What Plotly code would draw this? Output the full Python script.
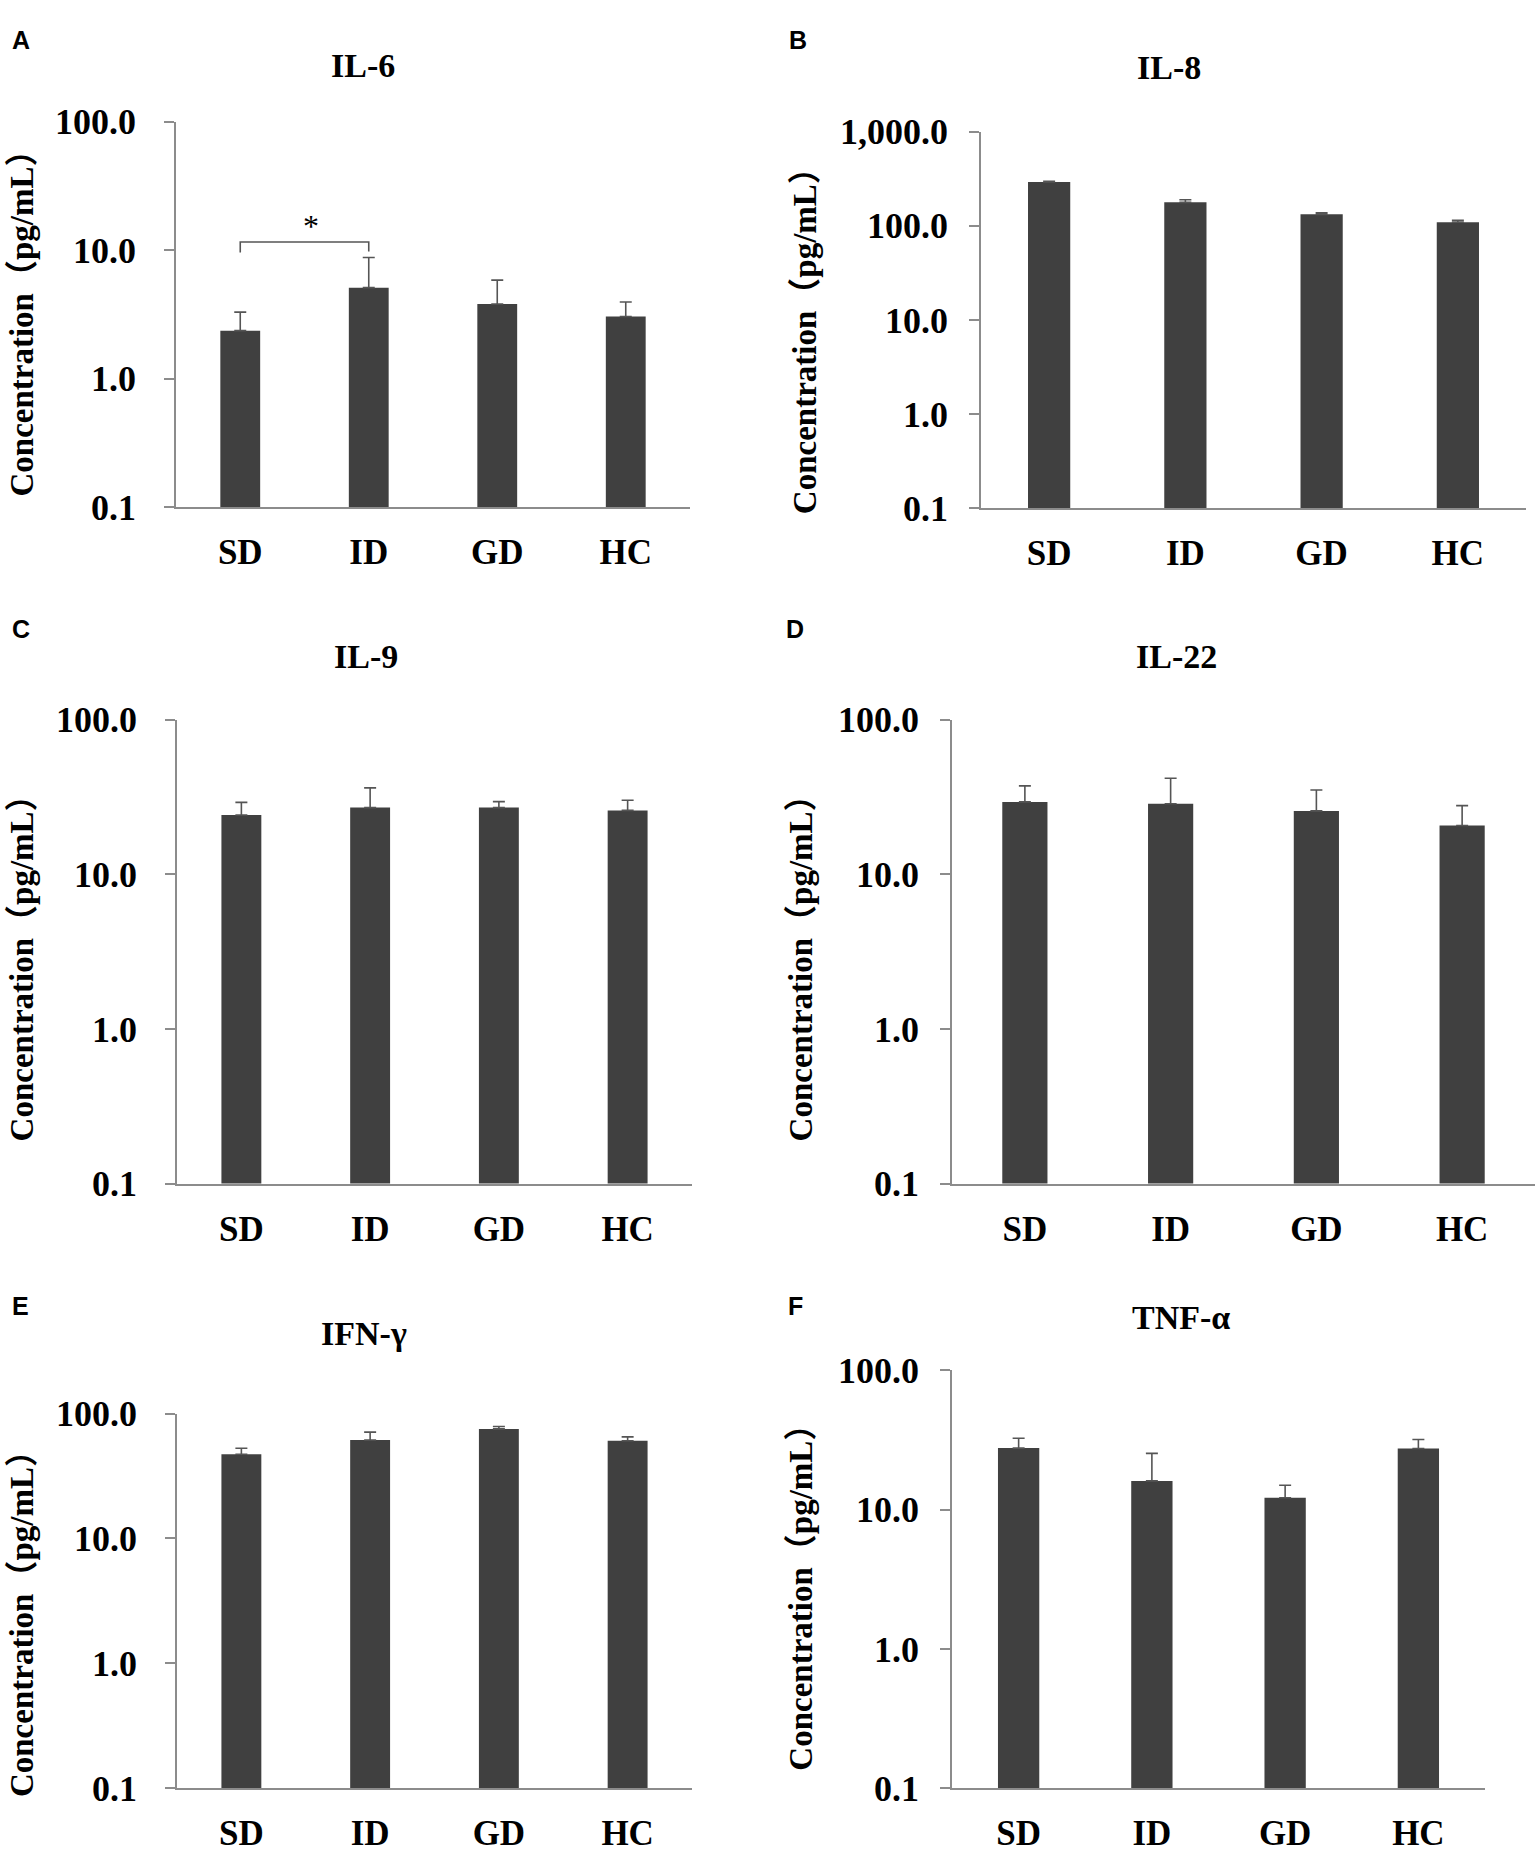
import math
import plotly.graph_objects as go

W, H = 1537, 1869

categories = ["SD", "ID", "GD", "HC"]

# panel values (mean) and upper error-bar ends
il6_mean = [2.37, 5.12, 3.82, 3.05]
il6_upper = [3.30, 8.79, 5.86, 3.96]
il8_mean = [291, 177, 132, 109]
il8_upper = [296, 189, 137, 114]
il9_mean = [24.2, 27.0, 27.0, 25.9]
il9_upper = [29.2, 36.2, 29.5, 30.1]
il22_mean = [29.4, 28.6, 25.7, 20.7]
il22_upper = [37.3, 41.8, 35.1, 27.8]
ifng_mean = [47.2, 61.4, 75.3, 60.5]
ifng_upper = [52.7, 71.0, 78.6, 65.0]
tnfa_mean = [27.7, 16.1, 12.2, 27.5]
tnfa_upper = [32.6, 25.4, 15.0, 31.9]

titles = ["IL-6", "IL-8", "IL-9", "IL-22", "IFN-γ", "TNF-α"]
letters = ["A", "B", "C", "D", "E", "F"]

ticks_std = [0.1, 1, 10, 100]
ticktext_std = ["0.1", "1.0", "10.0", "100.0"]
ticks_il8 = [0.1, 1, 10, 100, 1000]
ticktext_il8 = ["0.1", "1.0", "10.0", "100.0", "1,000.0"]

# significance bracket in panel A (SD vs ID)
bracket_x = [0, 0, 1, 1]
bracket_y = [9.6, 11.6, 11.6, 9.8]
star_label = "*"

ytitle = "Concentration（pg/mL）"

# layout (pixel boxes of each plot area: x0, x1, ytop, ybottom)
panels = [
    dict(mean=il6_mean, upper=il6_upper, box=(176, 690, 105, 499), top=2, tv=ticks_std, tt=ticktext_std,
         title_xy=(363, 48), letter_xy=(21, 21), ytitle_xy=(22, 303)),
    dict(mean=il8_mean, upper=il8_upper, box=(981, 1526, 115, 500), top=3, tv=ticks_il8, tt=ticktext_il8,
         title_xy=(1169, 50), letter_xy=(798, 21), ytitle_xy=(805, 321)),
    dict(mean=il9_mean, upper=il9_upper, box=(177, 692, 716, 1190), top=2, tv=ticks_std, tt=ticktext_std,
         title_xy=(366, 651), letter_xy=(21, 623), ytitle_xy=(22, 962)),
    dict(mean=il22_mean, upper=il22_upper, box=(952, 1535, 716, 1190), top=2, tv=ticks_std, tt=ticktext_std,
         title_xy=(1176, 651), letter_xy=(795, 623), ytitle_xy=(801, 962)),
    dict(mean=ifng_mean, upper=ifng_upper, box=(177, 692, 1425, 1808), top=2, tv=ticks_std, tt=ticktext_std,
         title_xy=(364, 1343), letter_xy=(20, 1315), ytitle_xy=(22, 1632)),
    dict(mean=tnfa_mean, upper=tnfa_upper, box=(952, 1485, 1381, 1808), top=2, tv=ticks_std, tt=ticktext_std,
         title_xy=(1181, 1327), letter_xy=(795, 1315), ytitle_xy=(801, 1605)),
]

BAR = "#404040"
AXIS = "#8c8c8c"
ERR = "#555555"
SERIF = "Liberation Serif, Times New Roman, Noto Sans CJK SC, serif"
SANS = "Liberation Sans, Arial, sans-serif"

fig = go.Figure()
annotations = []
layout = dict(width=W, height=H, margin=dict(l=0, r=0, t=0, b=0),
              paper_bgcolor="white", plot_bgcolor="white", showlegend=False)

xpos = list(range(len(categories)))

for i, p in enumerate(panels):
    n = "" if i == 0 else str(i + 1)
    x0, x1, yt, yb = p["box"]
    err = [u - m for u, m in zip(p["upper"], p["mean"])]
    fig.add_trace(go.Bar(
        x=xpos, y=p["mean"], width=0.31, marker=dict(color=BAR, line=dict(width=0)),
        error_y=dict(type="data", symmetric=False, array=err, arrayminus=[0] * len(err),
                     color=ERR, thickness=1.6, width=6),
        xaxis="x" + n, yaxis="y" + n, hoverinfo="skip"))
    layout["xaxis" + n] = dict(
        domain=[x0 / W, x1 / W], anchor="y" + n, range=[-0.5, len(categories) - 0.5],
        tickvals=xpos, ticktext=categories, showgrid=False, zeroline=False,
        showline=True, linecolor=AXIS, linewidth=2, ticks="",
        tickfont=dict(family=SERIF, size=35, color="black", weight="bold"),
        ticklabelstandoff=13, fixedrange=True)
    layout["yaxis" + n] = dict(
        domain=[1 - yb / H, 1 - yt / H], anchor="x" + n, type="log", range=[-1, p["top"]],
        tickvals=p["tv"], ticktext=p["tt"], showgrid=False, zeroline=False,
        showline=True, linecolor=AXIS, linewidth=1.5, ticks="outside", ticklen=10,
        tickcolor=AXIS, tickwidth=1.5,
        tickfont=dict(family=SERIF, size=36, color="black", weight="bold"),
        ticklabelstandoff=21 if i % 2 == 0 else 14, fixedrange=True)
    tx, ty = p["title_xy"]
    annotations.append(dict(text=titles[i], x=tx / W, y=1 - ty / H, xref="paper", yref="paper",
                            showarrow=False, xanchor="center", yanchor="middle",
                            font=dict(family=SERIF, size=34, color="black", weight="bold")))
    lx, ly = p["letter_xy"]
    annotations.append(dict(text=letters[i], x=lx / W, y=1 - ly / H, xref="paper", yref="paper",
                            showarrow=False, xanchor="center", yanchor="middle",
                            font=dict(family=SANS, size=25, color="black", weight="bold")))
    ax, ay = p["ytitle_xy"]
    annotations.append(dict(text=ytitle, x=ax / W, y=1 - ay / H, xref="paper", yref="paper",
                            showarrow=False, xanchor="center", yanchor="middle", textangle=-90,
                            font=dict(family=SERIF, size=33, color="black", weight="bold")))

# significance bracket and star on panel A
fig.add_trace(go.Scatter(x=bracket_x, y=bracket_y, mode="lines",
                         line=dict(color=ERR, width=1.6), xaxis="x", yaxis="y", hoverinfo="skip"))
annotations.append(dict(text=star_label, x=0.55, y=math.log10(max(bracket_y)), xref="x", yref="y",
                        showarrow=False, xanchor="center", yanchor="bottom", yshift=-4,
                        font=dict(family=SERIF, size=32, color="black")))

layout["annotations"] = annotations
fig.update_layout(**layout)
fig.write_html("out.html", config={"displayModeBar": False},
               post_script="document.body.style.margin='0';document.body.style.overflow='hidden';")
